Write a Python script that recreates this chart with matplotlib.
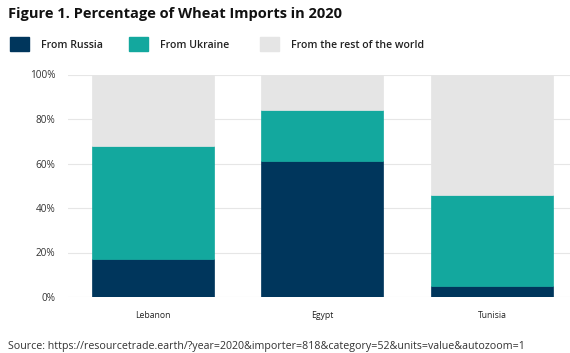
import matplotlib
matplotlib.use('Agg')
import matplotlib.pyplot as plt
from matplotlib.patches import Rectangle
import numpy as np

countries = ['Lebanon', 'Egypt', 'Tunisia']
from_russia = [17, 61, 5]
from_ukraine = [51, 23, 41]
from_rest = [32, 16, 54]

series_names = ['From Russia', 'From Ukraine', 'From the rest of the world']
colors = ['#00365c', '#13a89e', '#e5e5e5']
yticks = [0, 20, 40, 60, 80, 100]

plt.rcParams['font.family'] = ['Open Sans', 'DejaVu Sans']

fig = plt.figure(figsize=(5.7, 3.53), dpi=100)
ax = fig.add_axes([68/570, 1 - 297/353, 502/570, 222.5/353])

x = np.arange(len(countries))
bottom = np.zeros(len(countries))
for vals, col in zip([from_russia, from_ukraine, from_rest], colors):
    ax.bar(x, vals, width=0.72, bottom=bottom, color=col, zorder=2,
           edgecolor=col, linewidth=0.5)
    bottom += np.array(vals)

ax.set_xlim(-0.5, 2.46)
ax.set_ylim(0, 100)
ax.set_yticks(yticks)
ax.set_yticklabels(['%d%%' % v for v in yticks], fontsize=7.2, color='#333333')
ax.set_xticks(x)
ax.set_xticklabels(countries, fontsize=6.2, color='#222222')
ax.tick_params(axis='y', length=0, pad=9)
ax.tick_params(axis='x', length=0, pad=10)
ax.grid(axis='y', color='#e6e6e6', linewidth=0.8, zorder=0)
for s in ax.spines.values():
    s.set_visible(False)

fig.text(8/570, 1 - 14/353, 'Figure 1. Percentage of Wheat Imports in 2020',
         fontsize=10.5, fontweight='bold', va='center', ha='left', color='#111111')

# legend drawn by hand along the top
leg_x = [10, 129, 260]
for lx, name, col in zip(leg_x, series_names, colors):
    fig.patches.append(Rectangle((lx/570, 1 - 51/353), 19/570, 14/353,
                                 transform=fig.transFigure, color=col))
    fig.text((lx + 31)/570, 1 - 45/353, name, fontsize=7.6, fontweight='semibold',
             va='center', ha='left', color='#222222')

fig.text(8/570, 1 - 346/353,
         'Source: https://resourcetrade.earth/?year=2020&importer=818&category=52&units=value&autozoom=1',
         fontsize=7.7, va='center', ha='left', color='#333333')

fig.savefig('out.png', dpi=100)
